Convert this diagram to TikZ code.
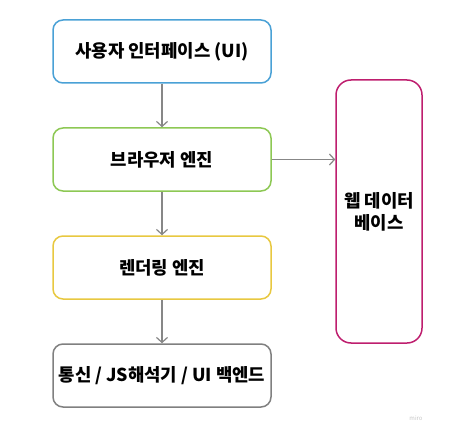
\documentclass[tikz,border=0pt]{standalone}
\usepackage{fontspec}
\setmainfont{Noto Sans CJK KR}
\usetikzlibrary{arrows.meta,positioning}
\definecolor{UIClr}{RGB}{74,161,214}
\definecolor{EngineClr}{RGB}{141,200,84}
\definecolor{RenderClr}{RGB}{232,200,64}
\definecolor{BackClr}{RGB}{128,128,128}
\definecolor{DataClr}{RGB}{190,30,110}
\definecolor{ArrowClr}{RGB}{135,135,135}

\begin{document}
\begin{tikzpicture}[x=1pt,y=-1pt,
  box/.style={draw, line width=1.5pt, rounded corners=10pt, minimum width=218pt,
    minimum height=63pt, inner sep=0pt, font=\bfseries\fontsize{17.8}{22}\selectfont},
  flow/.style={-{Straight Barb[length=5pt,width=11pt]}, line width=1.2pt, color=ArrowClr}]
\useasboundingbox (0,0) rectangle (470,430);

\node[box, draw=UIClr] (ui) at (162,51.5) {사용자 인터페이스 (UI)};
\node[box, draw=EngineClr] (browser) at (162,159.5) {브라우저 엔진};
\node[box, draw=RenderClr] (render) at (162,267.5) {렌더링 엔진};
\node[box, draw=BackClr] (backend) at (162,375.5) {통신 / JS해석기 / UI 백엔드};

\node[box, draw=DataClr, minimum width=86pt, minimum height=263pt,
  rounded corners=15pt, align=center] (data) at (379,211.5) {웹 데이터\\베이스};

\draw[flow] (ui) -- (browser);
\draw[flow] (browser) -- (render);
\draw[flow] (render) -- (backend);
\draw[flow] (browser.east) -- (browser.east -| data.west);

\node[font=\fontsize{6}{7}\selectfont, text=gray!45] (mark) at (416,418) {miro};
\end{tikzpicture}
\end{document}
